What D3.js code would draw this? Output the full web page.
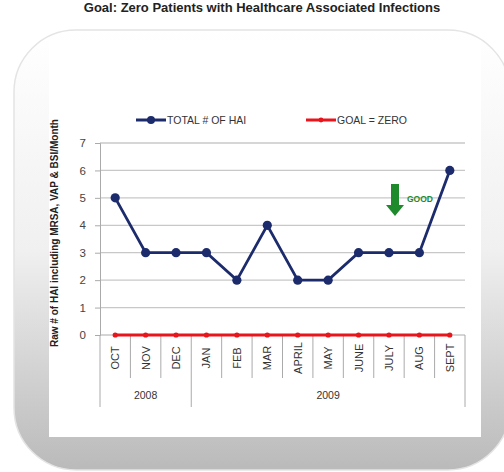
<!DOCTYPE html>
<html>
<head>
<meta charset="utf-8">
<style>
  body { margin: 0; background: #fff; }
  svg { display: block; font-family: "Liberation Sans", Arial, sans-serif; }
</style>
<script src="https://cdn.jsdelivr.net/npm/d3@7"></script>
</head>
<body>
<div id="chart"></div>
<script>
// data
var months = ["OCT", "NOV", "DEC", "JAN", "FEB", "MAR", "APRIL", "MAY", "JUNE", "JULY", "AUG", "SEPT"];
var years = [{label: "2008", from: 0, to: 3}, {label: "2009", from: 3, to: 12}];
var totalHai = [5, 3, 3, 3, 2, 4, 2, 2, 3, 3, 3, 6];
var goalZero = [0, 0, 0, 0, 0, 0, 0, 0, 0, 0, 0, 0];
var yTicks = [0, 1, 2, 3, 4, 5, 6, 7];

var W = 504, H = 472;
var plot = {left: 100, right: 465, top: 143, bottom: 335};

var svg = d3.select("#chart").append("svg")
    .attr("width", W).attr("height", H);

// rounded frame with grey gradient
var defs = svg.append("defs");
var grad = defs.append("linearGradient").attr("id", "frameGrad")
    .attr("x1", 0).attr("y1", 0).attr("x2", 0).attr("y2", 1);
grad.append("stop").attr("offset", "0%").attr("stop-color", "#ffffff");
grad.append("stop").attr("offset", "50%").attr("stop-color", "#f0f0f0");
grad.append("stop").attr("offset", "100%").attr("stop-color", "#bababa");

svg.append("rect")
    .attr("x", 14).attr("y", 30).attr("width", 496).attr("height", 440)
    .attr("rx", 62).attr("ry", 62)
    .style("fill", "url(#frameGrad)")
    .style("stroke", "#e4e4e4").style("stroke-width", 1.5);

svg.append("rect")
    .attr("x", 49).attr("y", 40).attr("width", 432).attr("height", 397)
    .style("fill", "#ffffff");

// title at the very top
svg.append("text")
    .attr("x", 262).attr("y", 12)
    .attr("text-anchor", "middle")
    .style("font-size", "13px").style("font-weight", "bold").style("fill", "#222")
    .text("Goal: Zero Patients with Healthcare Associated Infections");

var x = d3.scaleBand().domain(months).range([plot.left, plot.right]);
var y = d3.scaleLinear().domain([0, 7]).range([plot.bottom, plot.top]);

// gridlines
svg.append("g").selectAll("line").data(yTicks.filter(d => d > 0)).enter()
    .append("line")
    .attr("x1", plot.left).attr("x2", plot.right)
    .attr("y1", d => y(d)).attr("y2", d => y(d))
    .style("stroke", "#c8c8c8").style("stroke-width", 1.3);

// y axis
var yAxis = svg.append("g")
    .attr("transform", "translate(" + plot.left + ",0)")
    .call(d3.axisLeft(y).tickValues(yTicks).tickFormat(d3.format("d")).tickSize(5).tickPadding(9));
yAxis.select(".domain").style("stroke", "#aaa");
yAxis.selectAll(".tick line").style("stroke", "#aaa");
yAxis.selectAll(".tick text").style("font-size", "11.5px").style("fill", "#444")
    .style("font-family", "'Liberation Sans', Arial, sans-serif");

// x axis baseline and category separators
svg.append("line")
    .attr("x1", plot.left).attr("x2", plot.right)
    .attr("y1", y(0)).attr("y2", y(0))
    .style("stroke", "#aaa");

var seps = d3.range(1, months.length).filter(i => !years.some(yr => yr.from === i));
svg.append("g").selectAll("line").data(seps).enter().append("line")
    .attr("x1", i => x(months[i])).attr("x2", i => x(months[i]))
    .attr("y1", y(0)).attr("y2", y(0) + 43)
    .style("stroke", "#aaa");

var yearSeps = [0, years[1].from, months.length];
svg.append("g").selectAll("line").data(yearSeps).enter().append("line")
    .attr("x1", i => i < months.length ? x(months[i]) : plot.right)
    .attr("x2", i => i < months.length ? x(months[i]) : plot.right)
    .attr("y1", y(0)).attr("y2", y(0) + 72)
    .style("stroke", "#aaa");

// month labels, rotated
svg.append("g").selectAll("text").data(months).enter().append("text")
    .attr("transform", d => "translate(" + (x(d) + x.bandwidth() / 2 + 4) + "," + (y(0) + 23) + ") rotate(-90)")
    .attr("text-anchor", "middle")
    .style("font-family", "'Liberation Sans Narrow', 'Liberation Sans', Arial, sans-serif")
    .style("font-size", "11px").style("fill", "#333")
    .text(d => d);

// year labels
svg.append("g").selectAll("text").data(years).enter().append("text")
    .attr("x", d => (x(months[d.from]) + (d.to < months.length ? x(months[d.to]) : plot.right)) / 2)
    .attr("y", y(0) + 64)
    .attr("text-anchor", "middle")
    .style("font-size", "10.5px").style("fill", "#333")
    .text(d => d.label);

// y axis title
svg.append("text")
    .attr("transform", "translate(58," + ((plot.top + plot.bottom) / 2 - 6) + ") rotate(-90)")
    .attr("text-anchor", "middle")
    .style("font-family", "'Liberation Sans Narrow', 'Liberation Sans', Arial, sans-serif")
    .style("font-size", "10px").style("font-weight", "bold").style("fill", "#222")
    .text("Raw # of HAI including MRSA, VAP & BSI/Month");

// lines
var navy = "#1c2b6b", red = "#e8151c";
var line = d3.line()
    .x((d, i) => x(months[i]) + x.bandwidth() / 2)
    .y(d => y(d));

svg.append("path").datum(goalZero).attr("d", line)
    .style("fill", "none").style("stroke", red).style("stroke-width", 3);
svg.append("g").selectAll("circle").data(goalZero).enter().append("circle")
    .attr("cx", (d, i) => x(months[i]) + x.bandwidth() / 2)
    .attr("cy", d => y(d)).attr("r", 2.6)
    .style("fill", red);

svg.append("path").datum(totalHai).attr("d", line)
    .style("fill", "none").style("stroke", navy).style("stroke-width", 2.8);
svg.append("g").selectAll("circle").data(totalHai).enter().append("circle")
    .attr("cx", (d, i) => x(months[i]) + x.bandwidth() / 2)
    .attr("cy", d => y(d)).attr("r", 4.6)
    .style("fill", navy);

// legend
var legend = [
    {label: "TOTAL # OF HAI", color: navy, r: 4, x: 136},
    {label: "GOAL = ZERO", color: red, r: 2.4, x: 306}
];
var lg = svg.append("g").selectAll("g").data(legend).enter().append("g")
    .attr("transform", d => "translate(" + d.x + ",120)");
lg.append("line").attr("x1", 0).attr("x2", 30)
    .style("stroke", d => d.color).style("stroke-width", 3);
lg.append("circle").attr("cx", 15).attr("r", d => d.r).style("fill", d => d.color);
lg.append("text").attr("x", 31).attr("y", 4)
    .style("font-size", "10.5px").style("fill", "#333")
    .text(d => d.label);

// GOOD arrow
var green = "#1f8a2c";
var ax = 395, ay = 184;
svg.append("path")
    .attr("d", "M" + (ax - 4) + "," + ay + "H" + (ax + 4) + "V" + (ay + 21) +
        "H" + (ax + 9) + "L" + ax + "," + (ay + 32) + "L" + (ax - 9) + "," + (ay + 21) +
        "H" + (ax - 4) + "Z")
    .style("fill", green);
svg.append("text")
    .attr("x", ax + 12).attr("y", ay + 18)
    .style("font-size", "8.5px").style("font-weight", "bold").style("fill", green)
    .text("GOOD");
</script>
</body>
</html>
